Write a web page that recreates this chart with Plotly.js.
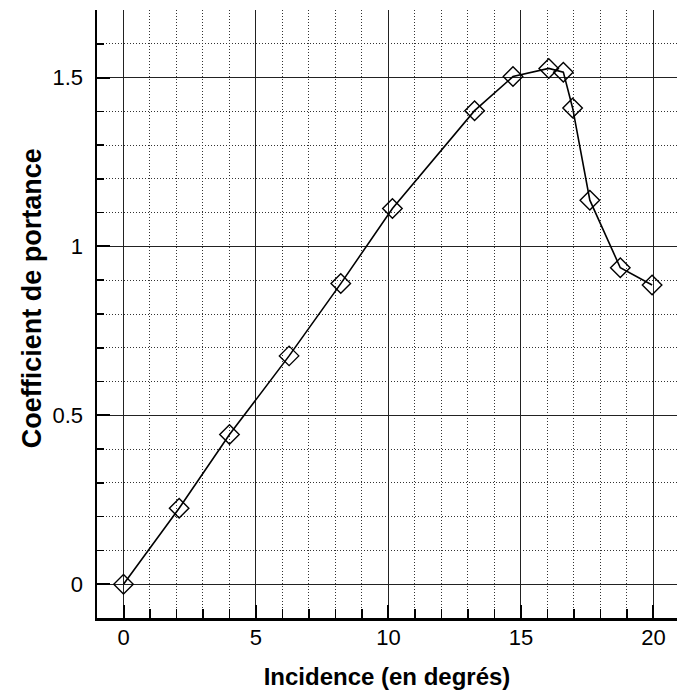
<!DOCTYPE html>
<html>
<head>
<meta charset="utf-8">
<script src="https://cdn.plot.ly/plotly-3.0.1.min.js"></script>
<style>html,body{margin:0;padding:0;background:#fff;}#chart{width:677px;height:693px;}</style>
</head>
<body>
<div id="chart"></div>
<script>
// Incidence (degrees) and lift coefficient
const incidence = [0, 2.1, 4.0, 6.25, 8.2, 10.15, 13.25, 14.7, 16.05, 16.6, 16.95, 17.6, 18.75, 19.95];
const coeffPortance = [0, 0.225, 0.443, 0.676, 0.89, 1.112, 1.402, 1.503, 1.527, 1.516, 1.41, 1.137, 0.937, 0.886];
const xTicks = [0, 5, 10, 15, 20];
const yTicks = [0, 0.5, 1, 1.5];
const yTickText = ['0', '0.5', '1', '1.5'];
const xTitle = '<b>Incidence (en degrés)</b>';
const yTitle = '<b>Coefficient de portance</b>';

const trace = {
  x: incidence,
  y: coeffPortance,
  type: 'scatter',
  mode: 'lines+markers',
  line: {color: '#000', width: 1.6},
  marker: {symbol: 'diamond-open', size: 15, color: '#000', line: {width: 1.4, color: '#000'}},
  showlegend: false,
  hoverinfo: 'skip'
};

const fam = 'Liberation Sans, Arial, sans-serif';

const layout = {
  width: 677, height: 693,
  margin: {l: 97, r: 0, t: 10, b: 75},
  paper_bgcolor: '#fff', plot_bgcolor: '#fff',
  font: {family: fam, color: '#000'},
  xaxis: {
    range: [-1, 20.89],
    tickvals: xTicks,
    ticktext: xTicks.map(String),
    ticks: 'inside', ticklen: 13, tickwidth: 2, tickcolor: '#000',
    ticklabelstandoff: -2,
    showline: true, linecolor: '#000', linewidth: 2.5,
    showgrid: true, gridcolor: '#222', gridwidth: 1,
    zeroline: false,
    tickfont: {family: fam, size: 22, color: '#000'},
    minor: {dtick: 1, tick0: 0, ticks: 'inside', ticklen: 9, tickwidth: 1.5, tickcolor: '#000',
            showgrid: true, gridcolor: '#333', gridwidth: 1, griddash: '1px,2px'},
    title: {text: xTitle, font: {family: fam, size: 24, color: '#000'}, standoff: 20},
    fixedrange: true
  },
  yaxis: {
    range: [-0.1, 1.7],
    tickvals: yTicks,
    ticktext: yTickText,
    ticks: 'inside', ticklen: 13, tickwidth: 2, tickcolor: '#000',
    ticklabelstandoff: 7,
    showline: true, linecolor: '#000', linewidth: 2.5,
    showgrid: true, gridcolor: '#222', gridwidth: 1,
    zeroline: false,
    tickfont: {family: fam, size: 22, color: '#000'},
    minor: {dtick: 0.1, tick0: 0, ticks: 'inside', ticklen: 7, tickwidth: 1.5, tickcolor: '#000',
            showgrid: true, gridcolor: '#333', gridwidth: 1, griddash: '1px,2px'},
    fixedrange: true
  },
  annotations: [{
    text: yTitle, textangle: -90,
    xref: 'paper', yref: 'paper', x: -0.112, y: 0.526,
    xanchor: 'center', yanchor: 'middle', showarrow: false,
    font: {family: fam, size: 27, color: '#000'}
  }]
};

Plotly.newPlot('chart', [trace], layout, {displayModeBar: false, staticPlot: true});
</script>
</body>
</html>
